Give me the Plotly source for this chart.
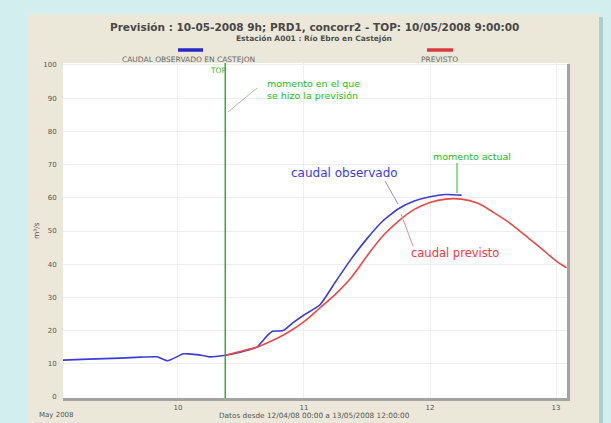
import plotly.graph_objects as go

# ---------------- data ----------------
title_text = "Previsión : 10-05-2008 9h; PRD1, concorr2 - TOP: 10/05/2008 9:00:00"
subtitle_text = "Estación A001 : Río Ebro en Castejón"
obs_name = "CAUDAL OBSERVADO EN CASTEJON"
pred_name = "PREVISTO"
y_label = "m³/s"
month_label = "May 2008"
footer_text = "Datos desde 12/04/08 00:00 a 13/05/2008 12:00:00"
top_time = "2008-05-10 09:00"

obs_times = ["2008-05-09 02:00", "2008-05-09 07:00", "2008-05-09 13:00", "2008-05-09 17:00",
             "2008-05-09 20:00", "2008-05-09 22:00", "2008-05-10 01:00", "2008-05-10 02:00",
             "2008-05-10 04:00", "2008-05-10 06:00", "2008-05-10 09:00", "2008-05-10 11:00",
             "2008-05-10 13:00", "2008-05-10 15:00", "2008-05-10 17:00", "2008-05-10 18:00",
             "2008-05-10 20:00", "2008-05-10 22:00", "2008-05-11 00:00", "2008-05-11 03:00",
             "2008-05-11 06:00", "2008-05-11 09:00", "2008-05-11 12:00", "2008-05-11 15:00",
             "2008-05-11 18:00", "2008-05-11 21:00", "2008-05-12 00:00", "2008-05-12 03:00",
             "2008-05-12 06:00"]
obs_vals = [11.1, 11.4, 11.7, 12.0, 12.1, 10.9, 13.0, 13.0, 12.7, 12.1, 12.6, 13.2,
            14.0, 15.0, 18.5, 19.8, 20.0, 22.5, 24.7, 27.7, 34.7, 41.6, 47.7, 53.0,
            56.7, 59.0, 60.3, 61.0, 60.8]

pred_times = ["2008-05-10 09:00", "2008-05-10 12:00", "2008-05-10 15:00", "2008-05-10 18:00",
              "2008-05-10 21:00", "2008-05-11 00:00", "2008-05-11 03:00", "2008-05-11 06:00",
              "2008-05-11 09:00", "2008-05-11 12:00", "2008-05-11 15:00", "2008-05-11 18:00",
              "2008-05-11 21:00", "2008-05-12 00:00", "2008-05-12 03:00", "2008-05-12 06:00",
              "2008-05-12 09:00", "2008-05-12 12:00", "2008-05-12 15:00", "2008-05-12 18:00",
              "2008-05-12 21:00", "2008-05-13 00:00", "2008-05-13 02:00"]
pred_vals = [12.6, 13.8, 15.0, 17.0, 19.5, 22.7, 26.8, 31.0, 36.0, 42.5, 48.5, 53.0,
             56.5, 58.6, 59.6, 59.6, 58.4, 55.7, 52.6, 48.8, 45.0, 41.0, 38.9]

y_ticks = [0, 10, 20, 30, 40, 50, 60, 70, 80, 90, 100]
x_ticks = ["2008-05-10", "2008-05-11", "2008-05-12", "2008-05-13"]
x_tick_labels = ["10", "11", "12", "13"]

# ---------------- layout helpers ----------------
W_FIG, H_FIG = 611, 423
L, R, T, B = 63, 568, 63, 398
PW, PH = R - L, B - T


def px(x):
    return (x - L) / PW


def py(y):
    return (B - y) / PH


BLUE = "#3c3cdc"
RED = "#ec4848"
GREEN = "#2fb52f"
FONT = "DejaVu Sans"

fig = go.Figure()
fig.add_trace(go.Scatter(x=obs_times, y=obs_vals, mode="lines", name=obs_name,
                         line=dict(color=BLUE, width=1.6, shape="spline", smoothing=0.5)))
fig.add_trace(go.Scatter(x=pred_times, y=pred_vals, mode="lines", name=pred_name,
                         line=dict(color=RED, width=1.6, shape="spline", smoothing=0.9)))

shapes = []
# outer panel shadow + panel
shapes.append(dict(type="rect", xref="paper", yref="paper", layer="below",
                   x0=px(30), x1=px(603), y0=py(426), y1=py(17),
                   fillcolor="#a9cfcf", line=dict(width=0)))
shapes.append(dict(type="rect", xref="paper", yref="paper", layer="below",
                   x0=px(27), x1=px(599), y0=py(425), y1=py(14),
                   fillcolor="#ebe8d9", line=dict(width=0)))
shapes.append(dict(type="rect", xref="paper", yref="paper", layer="below",
                   x0=0, x1=1, y0=0, y1=1, fillcolor="white", line=dict(width=0)))
# plot frame (gray right / bottom bars)
shapes.append(dict(type="line", xref="paper", yref="paper", x0=px(568.5), x1=px(568.5),
                   y0=py(401), y1=py(64), line=dict(color="#a3a3a3", width=3)))
shapes.append(dict(type="line", xref="paper", yref="paper", x0=px(63), x1=px(570),
                   y0=py(399.5), y1=py(399.5), line=dict(color="#a3a3a3", width=3)))
# TOP line
shapes.append(dict(type="line", xref="x", yref="paper", x0=top_time, x1=top_time,
                   y0=0, y1=1, line=dict(color=GREEN, width=1.5)))
# legend bars
shapes.append(dict(type="line", xref="paper", yref="paper", x0=px(178), x1=px(203),
                   y0=py(50), y1=py(50), line=dict(color="#2828c8", width=3.5)))
shapes.append(dict(type="line", xref="paper", yref="paper", x0=px(427), x1=px(453),
                   y0=py(50), y1=py(50), line=dict(color="#d83c3c", width=3.5)))
# pointer lines
shapes.append(dict(type="line", xref="paper", yref="paper", x0=px(257), x1=px(228),
                   y0=py(88), y1=py(112), line=dict(color="#98c898", width=1)))
shapes.append(dict(type="line", xref="paper", yref="paper", x0=px(385), x1=px(398),
                   y0=py(181), y1=py(204), line=dict(color="#9090c0", width=1)))
shapes.append(dict(type="line", xref="paper", yref="paper", x0=px(401), x1=px(413),
                   y0=py(214), y1=py(246), line=dict(color="#e09090", width=1)))
shapes.append(dict(type="line", xref="paper", yref="paper", x0=px(457), x1=px(457),
                   y0=py(163), y1=py(193), line=dict(color=GREEN, width=1)))

ann = []


def text(x, y, s, size, color, xanchor="center", bold=False, angle=0):
    ann.append(dict(x=px(x), y=py(y), xref="paper", yref="paper", text=s,
                    showarrow=False, xanchor=xanchor, yanchor="middle", textangle=angle,
                    align="left" if xanchor == "left" else "center",
                    font=dict(family=FONT, size=size, color=color,
                              weight="bold" if bold else "normal")))


text(314, 27, title_text, 10.5, "#484848", bold=True)
text(314, 38, subtitle_text, 7.5, "#505050", bold=True)
text(188, 59, obs_name, 7.5, "#666666")
text(439, 59, pred_name, 7.5, "#666666")
text(218, 70, "TOP", 7.5, GREEN)
text(265, 89, "momento en el que<br>se hizo la previsión", 9.5, "#22bb22", xanchor="left")
text(344, 173, "caudal observado", 12, "#3c3ce6")
text(455, 253, "caudal previsto", 11.5, "#ee3a3a")
text(472, 156, "momento actual", 9.5, "#22bb22")
text(36, 231, y_label, 7.5, "#555555", angle=-90)
text(56, 415, month_label, 7, "#555555")
text(314, 416, footer_text, 7.3, "#555555")

fig.update_layout(
    width=W_FIG, height=H_FIG,
    margin=dict(l=L, r=W_FIG - R, t=T, b=H_FIG - B, pad=0),
    paper_bgcolor="#d2eeee", plot_bgcolor="white",
    showlegend=False, shapes=shapes, annotations=ann,
    font=dict(family=FONT, size=7, color="#555555"),
)
fig.update_xaxes(type="date", range=["2008-05-09 02:06", "2008-05-13 02:17"],
                 tickvals=x_ticks, ticktext=x_tick_labels,
                 showgrid=True, gridcolor="#eeeeee", gridwidth=1,
                 zeroline=False, showline=False, ticks="outside", ticklen=3,
                 tickcolor="rgba(0,0,0,0)", tickfont=dict(size=7, color="#555555"))
fig.update_yaxes(range=[-0.3, 100.6], tickvals=y_ticks,
                 showgrid=True, gridcolor="#eeeeee", gridwidth=1,
                 zeroline=False, showline=False, ticks="outside", ticklen=4,
                 tickcolor="rgba(0,0,0,0)", tickfont=dict(size=7, color="#555555"))

fig.write_html("out.html", config={"displayModeBar": False},
               post_script="document.body.style.margin='0px';")
